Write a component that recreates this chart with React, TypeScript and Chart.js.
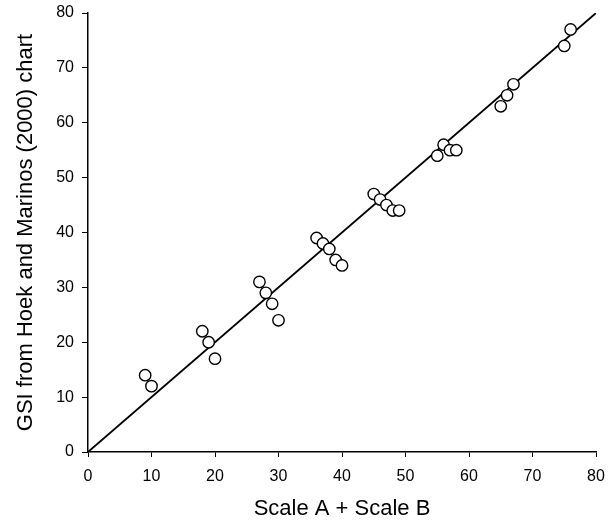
import React, { useEffect, useRef } from "react";
import { Chart, registerables } from "chart.js";

Chart.register(...registerables);

const scaleAB: number[] = [9, 10, 18, 19, 20, 27, 28, 29, 30, 36, 37, 38, 39, 40, 45, 46, 47, 48, 49, 55, 56, 57, 58, 65, 66, 67, 75, 76];
const gsiChart: number[] = [14, 12, 22, 20, 17, 31, 29, 27, 24, 39, 38, 37, 35, 34, 47, 46, 45, 44, 44, 54, 56, 55, 55, 63, 65, 67, 74, 77];
const lineX: number[] = [0, 80];
const lineY: number[] = [0, 80];
const xTitle = "Scale A + Scale B";
const yTitle = "GSI from Hoek and Marinos (2000) chart";

const FONT = "'Liberation Sans', Arial, Helvetica, sans-serif";

export default function App() {
  const ref = useRef<HTMLCanvasElement | null>(null);
  useEffect(() => {
    document.body.style.margin = "0";
    const canvas = ref.current;
    if (!canvas) return;
    const points = scaleAB.map((x, i) => ({ x, y: gsiChart[i] }));
    const line = lineX.map((x, i) => ({ x, y: lineY[i] }));
    const chart = new Chart(canvas, {
      type: "scatter",
      data: {
        datasets: [
          {
            data: points,
            pointRadius: 5.7,
            pointBackgroundColor: "#ffffff",
            pointBorderColor: "#000000",
            pointBorderWidth: 1.4,
            order: 0,
          },
          {
            data: line,
            showLine: true,
            pointRadius: 0,
            borderColor: "#000000",
            borderWidth: 1.8,
            order: 1,
          } as any,
        ],
      },
      options: {
        animation: false,
        responsive: false,
        devicePixelRatio: 1,
        layout: { padding: { top: 13, right: 15, left: 0, bottom: 0 } },
        plugins: { legend: { display: false }, tooltip: { enabled: false } },
        scales: {
          x: {
            type: "linear",
            min: 0,
            max: 80,
            ticks: { stepSize: 10, color: "#000", font: { family: FONT, size: 16 }, padding: 10, maxRotation: 0 },
            grid: { drawOnChartArea: false, drawTicks: true, tickLength: 5, color: "#000", lineWidth: 1 },
            border: { color: "#000", width: 1.5 },
            title: { display: true, text: xTitle, color: "#000", font: { family: FONT, size: 22 }, padding: { top: 0, bottom: 0 } },
            afterFit: (s: any) => { s.height = 70; s.paddingLeft = 0; s.paddingRight = 0; },
          },
          y: {
            type: "linear",
            min: 0,
            max: 80,
            ticks: { stepSize: 10, color: "#000", font: { family: FONT, size: 16 }, padding: 8 },
            grid: { drawOnChartArea: false, drawTicks: true, tickLength: 6, color: "#000", lineWidth: 1 },
            border: { color: "#000", width: 1.5 },
            title: { display: true, text: yTitle, color: "#000", font: { family: FONT, size: 22 }, padding: { top: 13, bottom: 0 } },
            afterFit: (s: any) => { s.width = 88; s.paddingTop = 0; s.paddingBottom = 0; },
          },
        },
      },
    });
    return () => chart.destroy();
  }, []);
  return (
    <div style={{ width: 611, height: 522 }}>
      <canvas ref={ref} width={611} height={522} style={{ width: 611, height: 522, display: "block" }} />
    </div>
  );
}
